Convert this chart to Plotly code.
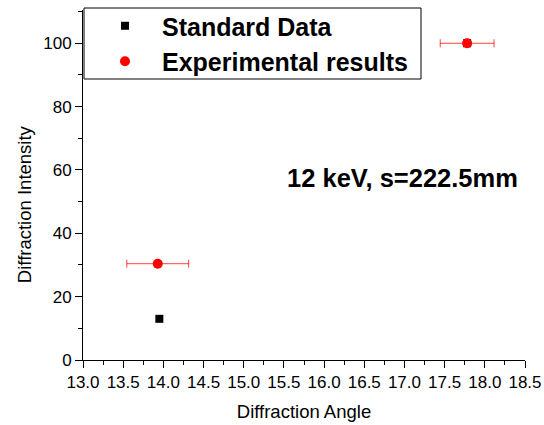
import plotly.graph_objects as go

# Peak positions (deg) and relative intensities
std_angle = [13.95, 17.78]
std_intensity = [13.0, 100.0]

exp_angle = [13.93, 17.78]
exp_intensity = [30.4, 100.0]
exp_angle_err = [0.385, 0.335]

x_ticks = [13.0, 13.5, 14.0, 14.5, 15.0, 15.5, 16.0, 16.5, 17.0, 17.5, 18.0, 18.5]
x_tick_labels = ["13.0", "13.5", "14.0", "14.5", "15.0", "15.5", "16.0",
                 "16.5", "17.0", "17.5", "18.0", "18.5"]
y_ticks = [0, 20, 40, 60, 80, 100]

FONT = "Liberation Sans, Arial, sans-serif"
PLOT_W = 544 - 83 - 19
PLOT_H = 425 - 10 - 65

fig = go.Figure()

fig.add_trace(go.Scatter(
    x=std_angle, y=std_intensity, mode="markers", name="Standard Data",
    marker=dict(symbol="square", size=8, color="black"),
))

fig.add_trace(go.Scatter(
    x=exp_angle, y=exp_intensity, mode="markers", name="Experimental results",
    marker=dict(symbol="circle", size=10, color="#ff0000"),
    error_x=dict(type="data", array=exp_angle_err, visible=True,
                 color="rgba(255,0,0,0.75)", thickness=1, width=4),
))

fig.add_annotation(
    x=16.97, y=57.4, xref="x", yref="y",
    text="<b>12 keV, s=222.5mm</b>", showarrow=False,
    font=dict(family=FONT, size=25.5, color="black"),
    xanchor="center", yanchor="middle",
)

# y-axis title placed explicitly
fig.add_annotation(
    x=-0.1324, y=0.4467, xref="paper", yref="paper",
    text="Diffraction Intensity", showarrow=False, textangle=-90,
    font=dict(family=FONT, size=18.5, color="black"),
    xanchor="center", yanchor="middle",
)

# legend frame (tight around the two entries)
fig.add_shape(
    type="rect", xref="paper", yref="paper", layer="above",
    x0=1 / PLOT_W, x1=(421 - 83) / PLOT_W,
    y0=(360 - 79) / PLOT_H, y1=(360 - 8) / PLOT_H,
    line=dict(color="black", width=1), fillcolor="white",
)

fig.update_layout(
    width=544, height=425,
    margin=dict(l=83, r=19, t=10, b=65, autoexpand=False),
    paper_bgcolor="white", plot_bgcolor="white",
    font=dict(family=FONT, color="black"),
    showlegend=True,
    legend=dict(
        x=5 / PLOT_W, y=1 + 7 / PLOT_H, xanchor="left", yanchor="top",
        bgcolor="rgba(0,0,0,0)", borderwidth=0,
        font=dict(family=FONT, size=25, color="black", weight="bold"),
        itemwidth=64, tracegroupgap=0,
    ),
    xaxis=dict(
        range=[13.0, 18.5], tickmode="array", tickvals=x_ticks, ticktext=x_tick_labels,
        showline=True, linecolor="black", linewidth=1, mirror=False,
        ticks="outside", ticklen=7, tickwidth=1, tickcolor="black",
        minor=dict(dtick=0.25, ticks="outside", ticklen=4, tickcolor="black", showgrid=False),
        showgrid=False, zeroline=False,
        tickfont=dict(family=FONT, size=17, color="black"),
        title=dict(text="Diffraction Angle", font=dict(family=FONT, size=18.5, color="black"),
                   standoff=13),
    ),
    yaxis=dict(
        range=[0, 110.5], tickmode="array", tickvals=y_ticks,
        showline=True, linecolor="black", linewidth=1, mirror=False,
        ticks="outside", ticklen=7, tickwidth=1, tickcolor="black",
        minor=dict(dtick=10, ticks="outside", ticklen=4, tickcolor="black", showgrid=False),
        showgrid=False, zeroline=False,
        tickfont=dict(family=FONT, size=17, color="black"),
    ),
)

fig.write_html("out.html")
